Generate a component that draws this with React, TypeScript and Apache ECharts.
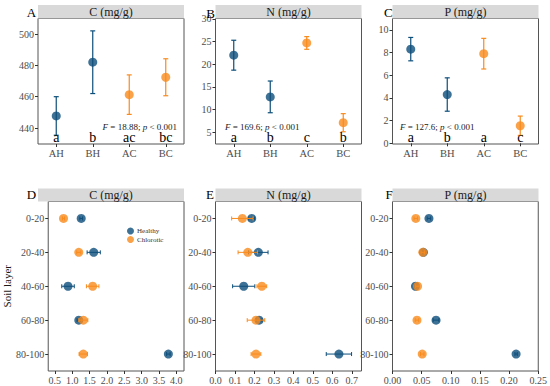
import React, { useEffect, useRef } from "react";
import * as echarts from "echarts";

// ---------- data ----------
const groups = ["AH", "BH", "AC", "BC"];
const groupIsHealthy = [true, true, false, false];

const cMean = [447.7, 482.0, 461.3, 472.4];
const cErr = [12.3, 20.0, 12.6, 11.8];
const cLetters = ["a", "b", "ac", "bc"];

const nMean = [22.0, 12.8, 24.7, 7.1];
const nErr = [3.3, 3.5, 1.4, 2.0];
const nLetters = ["a", "b", "c", "b"];

const pMean = [8.3, 4.3, 7.9, 1.55];
const pErr = [1.03, 1.47, 1.35, 0.85];
const pLetters = ["a", "b", "a", "c"];

const layers = ["0-20", "20-40", "40-60", "60-80", "80-100"];

const dHealthy = [1.26, 1.62, 0.88, 1.19, 3.77];
const dHealthyErr = [0.04, 0.19, 0.18, 0.05, 0.05];
const dChlorotic = [0.75, 1.19, 1.59, 1.32, 1.32];
const dChloroticErr = [0.03, 0.06, 0.18, 0.13, 0.12];

const eHealthy = [0.186, 0.22, 0.145, 0.224, 0.634];
const eHealthyErr = [0.015, 0.05, 0.057, 0.015, 0.065];
const eChlorotic = [0.138, 0.166, 0.238, 0.208, 0.208];
const eChloroticErr = [0.055, 0.05, 0.025, 0.045, 0.025];

const fHealthy = [0.0625, 0.053, 0.0394, 0.0747, 0.212];
const fHealthyErr = [0.003, 0.002, 0.002, 0.005, 0.002];
const fChlorotic = [0.04, 0.052, 0.043, 0.042, 0.051];
const fChloroticErr = [0.003, 0.003, 0.003, 0.003, 0.003];

const topTicksC = [440, 460, 480, 500];
const topTicksN = [5, 10, 15, 20, 25, 30];
const topTicksP = [0, 2, 4, 6, 8, 10];
const botTicksD = [0.5, 1.0, 1.5, 2.0, 2.5, 3.0, 3.5, 4.0];
const botTicksE = [0, 0.1, 0.2, 0.3, 0.4, 0.5, 0.6, 0.7];
const botTicksF = [0, 0.05, 0.1, 0.15, 0.2, 0.25];

const stats = ["18.88", "169.6", "127.6"];

// ---------- style ----------
const FONT = "Liberation Serif";
const BLUE = "#0C4E7A";
const ORANGE = "#F98B1D";
const BORDER = "#555555";
const LABEL = "#4d4d4d";

export default function App() {
  const ref = useRef<HTMLDivElement>(null);

  useEffect(() => {
    document.body.style.margin = "0";
    const chart = echarts.init(ref.current!, null, { renderer: "svg" });

    const lefts = [38, 215.5, 392.5];
    const W = 146;
    const topT = 18.5, topH = 125.5;
    const botT = 201.5, botH = 169.5;

    const topPanels = [
      { title: "C (mg/g)", mean: cMean, err: cErr, letters: cLetters, min: 429.8, max: 509.9, ticks: topTicksC },
      { title: "N (mg/g)", mean: nMean, err: nErr, letters: nLetters, min: 2.4, max: 30.1, ticks: topTicksN },
      { title: "P (mg/g)", mean: pMean, err: pErr, letters: pLetters, min: -0.06, max: 11.0, ticks: topTicksP },
    ];
    const botPanels = [
      { title: "C (mg/g)", h: dHealthy, he: dHealthyErr, c: dChlorotic, ce: dChloroticErr, min: 0.31, max: 4.22, ticks: botTicksD, dec: 1 },
      { title: "N (mg/g)", h: eHealthy, he: eHealthyErr, c: eChlorotic, ce: eChloroticErr, min: 0, max: 0.75, ticks: botTicksE, dec: 1 },
      { title: "P (mg/g)", h: fHealthy, he: fHealthyErr, c: fChlorotic, ce: fChloroticErr, min: 0, max: 0.25, ticks: botTicksF, dec: 2 },
    ];

    const grid: any[] = [];
    const xAxis: any[] = [];
    const yAxis: any[] = [];
    const series: any[] = [];
    const graphic: any[] = [];

    const tickStyle = { show: true, length: 3, lineStyle: { color: "#333", width: 1 } };
    const labelStyle = { fontFamily: FONT, fontSize: 10, color: LABEL };

    const vErr = (color: string, params: any, api: any) => {
      const x = api.value(0);
      const lo = api.coord([x, api.value(1)]);
      const hi = api.coord([x, api.value(2)]);
      const cw = 2.5;
      const st = { stroke: color, lineWidth: 1.2 };
      return {
        type: "group",
        children: [
          { type: "line", shape: { x1: lo[0], y1: lo[1], x2: hi[0], y2: hi[1] }, style: st },
          { type: "line", shape: { x1: lo[0] - cw, y1: lo[1], x2: lo[0] + cw, y2: lo[1] }, style: st },
          { type: "line", shape: { x1: hi[0] - cw, y1: hi[1], x2: hi[0] + cw, y2: hi[1] }, style: st },
        ],
      };
    };
    const hErr = (color: string) => (params: any, api: any) => {
      const y = api.value(2);
      const lo = api.coord([api.value(0), y]);
      const hi = api.coord([api.value(1), y]);
      const ch = 2;
      const st = { stroke: color, lineWidth: 1 };
      return {
        type: "group",
        children: [
          { type: "line", shape: { x1: lo[0], y1: lo[1], x2: hi[0], y2: hi[1] }, style: st },
          { type: "line", shape: { x1: lo[0], y1: lo[1] - ch, x2: lo[0], y2: lo[1] + ch }, style: st },
          { type: "line", shape: { x1: hi[0], y1: hi[1] - ch, x2: hi[0], y2: hi[1] + ch }, style: st },
        ],
      };
    };

    const stripRect = (left: number, top: number, h: number) => ({
      type: "rect",
      shape: { x: left, y: top, width: W, height: h },
      style: { fill: "#D9D9D9" },
      z: 1,
    });
    const stripText = (cx: number, cy: number, t: string) => ({
      type: "text",
      x: cx,
      y: cy,
      style: { text: t, fontFamily: FONT, fontSize: 12, fill: "#1a1a1a", align: "center", verticalAlign: "middle" },
      z: 2,
    });
    const panelLetter = (cx: number, cy: number, t: string) => ({
      type: "text",
      x: cx,
      y: cy,
      style: { text: t, fontFamily: FONT, fontSize: 13, fill: "#000", align: "center", verticalAlign: "middle" },
      z: 3,
    });

    topPanels.forEach((p, i) => {
      grid.push({ left: lefts[i], top: topT, width: W, height: topH, show: true, borderColor: BORDER, borderWidth: 1, backgroundColor: "#fff" });
      xAxis.push({
        type: "category",
        gridIndex: i,
        data: groups,
        boundaryGap: true,
        axisLine: { show: false },
        axisTick: { ...tickStyle, alignWithLabel: true },
        axisLabel: { ...labelStyle, fontSize: 10.5, margin: 4 },
        splitLine: { show: false },
      });
      yAxis.push({
        type: "value",
        gridIndex: i,
        min: p.min,
        max: p.max,
        axisLine: { show: false },
        axisTick: { ...tickStyle, customValues: p.ticks },
        axisLabel: { ...labelStyle, margin: 4, customValues: p.ticks },
        splitLine: { show: false },
      });
      const colors = groupIsHealthy.map((h) => (h ? BLUE : ORANGE));
      series.push({
        type: "custom",
        xAxisIndex: i,
        yAxisIndex: i,
        z: 3,
        renderItem: (params: any, api: any) => vErr(colors[api.value(3)], params, api),
        data: p.mean.map((m, k) => [k, m - p.err[k], m + p.err[k], k]),
      });
      series.push({
        type: "scatter",
        xAxisIndex: i,
        yAxisIndex: i,
        symbol: "circle",
        symbolSize: 9,
        z: 4,
        data: p.mean.map((m, k) => ({ value: [k, m], itemStyle: { color: colors[k] } })),
      });
      const letterY = p.min + 0.048 * (p.max - p.min);
      series.push({
        type: "custom",
        xAxisIndex: i,
        yAxisIndex: i,
        z: 5,
        silent: true,
        renderItem: (params: any, api: any) => {
          const pt = api.coord([api.value(0), api.value(1)]);
          return {
            type: "text",
            x: pt[0],
            y: pt[1],
            style: {
              text: p.letters[params.dataIndex],
              fontFamily: FONT,
              fontSize: 14,
              fill: "#000",
              align: "center",
              verticalAlign: "middle",
            },
          };
        },
        data: p.letters.map((_, k) => [k, letterY]),
      });
      graphic.push(stripRect(lefts[i], 5, 13.5));
      graphic.push(stripText(lefts[i] + W / 2, 11.5, p.title));
    });

    graphic.push(panelLetter(31.5, 12.3, "A"));
    graphic.push(panelLetter(210.5, 13, "B"));
    graphic.push(panelLetter(388.3, 12.3, "C"));

    const statPos = [
      { x: 177, align: "right" },
      { x: 225, align: "left" },
      { x: 400, align: "left" },
    ];
    stats.forEach((s, i) => {
      graphic.push({
        type: "text",
        x: statPos[i].x,
        y: 126.5,
        z: 6,
        style: {
          text: "{i|F} = " + s + "; {i|p} < 0.001",
          fontFamily: FONT,
          fontSize: 9,
          fill: "#1a1a1a",
          align: statPos[i].align,
          verticalAlign: "middle",
          rich: { i: { fontStyle: "italic", fontFamily: FONT, fontSize: 9, fill: "#1a1a1a" } },
        },
      });
    });

    botPanels.forEach((p, j) => {
      const gi = 3 + j;
      grid.push({ left: lefts[j], top: botT, width: W, height: botH, show: true, borderColor: BORDER, borderWidth: 1, backgroundColor: "#fff" });
      xAxis.push({
        type: "value",
        gridIndex: gi,
        min: p.min,
        max: p.max,
        axisLine: { show: false },
        axisTick: { ...tickStyle, customValues: p.ticks },
        axisLabel: {
          ...labelStyle,
          margin: 4,
          customValues: p.ticks,
          formatter: (v: number) => v.toFixed(p.dec),
        },
        splitLine: { show: false },
      });
      yAxis.push({
        type: "category",
        gridIndex: gi,
        data: layers,
        inverse: true,
        boundaryGap: true,
        axisLine: { show: false },
        axisTick: { ...tickStyle, alignWithLabel: true },
        axisLabel: { ...labelStyle, margin: 4 },
        splitLine: { show: false },
        ...(j === 0
          ? {
              name: "Soil layer",
              nameLocation: "middle",
              nameGap: 26,
              nameTextStyle: { fontFamily: FONT, fontSize: 11, color: "#1a1a1a" },
            }
          : {}),
      });
      series.push({
        type: "custom",
        name: "errH" + j,
        xAxisIndex: gi,
        yAxisIndex: gi,
        z: 3,
        renderItem: hErr(BLUE),
        data: p.h.map((m, k) => [m - p.he[k], m + p.he[k], k]),
      });
      series.push({
        type: "scatter",
        name: "Healthy",
        xAxisIndex: gi,
        yAxisIndex: gi,
        symbol: "circle",
        symbolSize: 9,
        z: 4,
        itemStyle: { color: BLUE },
        data: p.h.map((m, k) => [m, k]),
      });
      series.push({
        type: "scatter",
        name: "Chlorotic",
        xAxisIndex: gi,
        yAxisIndex: gi,
        symbol: "circle",
        symbolSize: 9,
        z: 5,
        itemStyle: { color: ORANGE },
        data: p.c.map((m, k) => [m, k]),
      });
      series.push({
        type: "custom",
        name: "errC" + j,
        xAxisIndex: gi,
        yAxisIndex: gi,
        z: 6,
        renderItem: hErr(ORANGE),
        data: p.c.map((m, k) => [m - p.ce[k], m + p.ce[k], k]),
      });
      graphic.push(stripRect(lefts[j], 188.5, 13));
      graphic.push(stripText(lefts[j] + W / 2, 195, p.title));
    });

    graphic.push(panelLetter(31.5, 194, "D"));
    graphic.push(panelLetter(210, 194, "E"));
    graphic.push(panelLetter(389, 194, "F"));

    chart.setOption({
      animation: false,
      backgroundColor: "#fff",
      textStyle: { fontFamily: FONT },
      grid,
      xAxis,
      yAxis,
      series,
      graphic,
      legend: {
        data: [
          { name: "Healthy", icon: "circle" },
          { name: "Chlorotic", icon: "circle" },
        ],
        orient: "vertical",
        left: 127,
        top: 227.5,
        padding: 0,
        itemWidth: 7,
        itemHeight: 7,
        itemGap: 1.5,
        selectedMode: false,
        textStyle: { fontFamily: FONT, fontSize: 7, color: "#333", padding: [0, 0, 0, -2] },
      },
    });

    return () => chart.dispose();
  }, []);

  return <div ref={ref} style={{ width: 550, height: 386 }} />;
}
